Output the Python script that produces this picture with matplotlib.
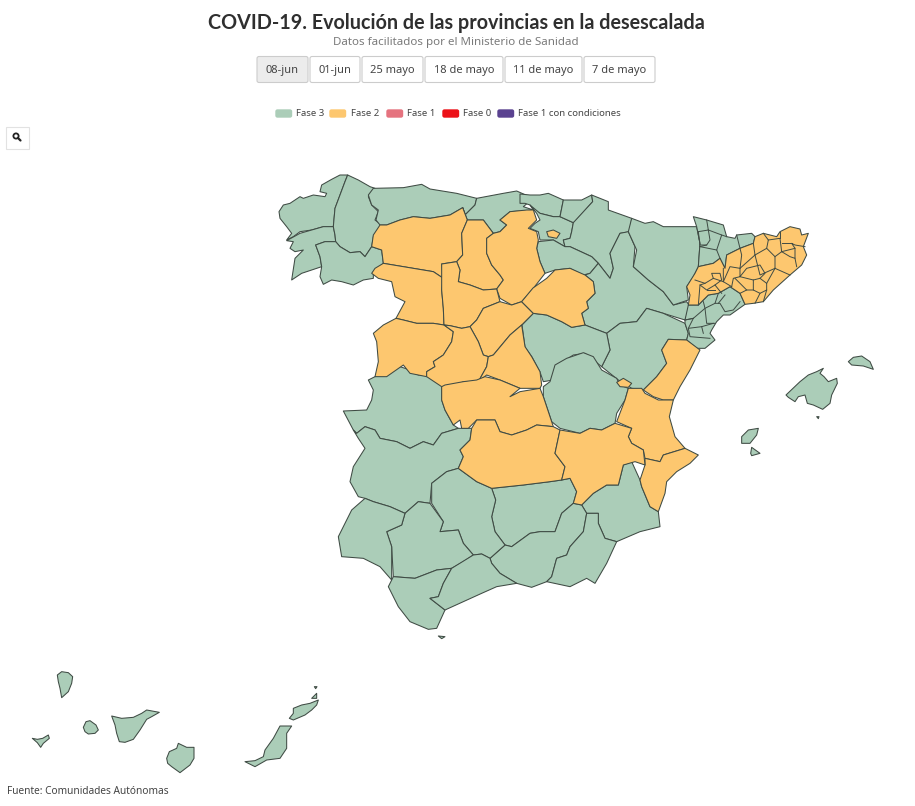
import matplotlib
matplotlib.use("Agg")
import matplotlib.pyplot as plt
from matplotlib.patches import Polygon, FancyBboxPatch, Rectangle, Circle

TITLE = "COVID-19. Evolución de las provincias en la desescalada"
SUBTITLE = "Datos facilitados por el Ministerio de Sanidad"
SOURCE = "Fuente: Comunidades Autónomas"
DATES = ["08-jun", "01-jun", "25 mayo", "18 de mayo", "11 de mayo", "7 de mayo"]
PHASES = ["Fase 3", "Fase 2", "Fase 1", "Fase 0", "Fase 1 con condiciones"]
PHASE_COLORS = ["#abcdb8", "#fdc76f", "#e5737f", "#ec1118", "#5a4290"]

# Region outlines. Each group is on a 3x grid with its own origin.
NW = (270, 165)
GAL = (275, 170)
BSQ = (520, 190)
NE = (530, 190)
CAT = (680, 215)
S = (330, 350)
BAL = (720, 340)
CAN = (0, 650)

F3 = []  # (grid, outline) of regions in Fase 3
F2 = []  # regions in Fase 2

F3 += [(GAL, o) for o in [
 [(218,15),(195,15),(170,28),(140,45),(135,65),(155,70),(150,80),(115,75),(85,85),(75,80),(45,100),(25,105),(12,125),(15,145),(35,170),(50,190),(35,210),(55,200),(75,185),(110,180),(145,170),(175,170),(180,115),(195,75),(210,35)],
 [(175,170),(145,170),(110,180),(75,190),(35,212),(55,215),(45,235),(60,245),(85,240),(60,265),(50,330),(80,310),(140,290),(135,260),(122,225),(150,215),(182,215),(180,195)],
 [(218,15),(250,30),(285,50),(300,55),(280,80),(290,105),(310,125),(300,150),(320,165),(295,200),(290,230),(270,260),(255,245),(225,248),(195,230),(182,215),(180,195),(175,170),(180,115),(195,75),(210,35)],
 [(122,225),(150,215),(182,215),(195,230),(225,248),(255,245),(270,260),(290,230),(320,240),(325,280),(295,305),(295,325),(265,330),(235,345),(200,335),(170,330),(145,343),(135,320),(140,290),(135,260)],
]]
F3 += [(NW, o) for o in [
 [(310,70),(400,68),(455,58),(480,72),(560,85),(620,100),(615,120),(585,150),(578,128),(540,150),(480,160),(430,155),(390,165),(350,180),(330,180),(318,165),(325,135),(305,120),(295,90)],
 [(620,100),(700,85),(740,78),(790,100),(760,125),(790,135),(720,140),(690,165),(710,180),(690,200),(670,205),(640,165),(592,165),(578,128),(585,150),(615,120)],
]]
F2 += [(NW, o) for o in [
 [(330,180),(350,180),(390,165),(430,155),(480,160),(540,150),(578,128),(592,165),(575,205),(578,270),(560,290),(515,297),(520,340),(490,320),(430,310),(340,295),(335,255),(305,245),(310,210)],
 [(592,165),(640,165),(670,205),(650,220),(650,265),(665,300),(690,330),(700,345),(680,372),(640,375),(600,360),(565,350),(570,315),(560,290),(578,270),(575,205)],
 [(670,205),(690,200),(710,180),(690,165),(720,140),(770,135),(790,135),(800,165),(775,190),(800,200),(805,225),(800,250),(810,290),(825,325),(790,370),(755,410),(725,420),(690,400),(680,372),(700,345),(690,330),(665,300),(650,265),(650,220)],
 [(340,295),(430,310),(490,320),(520,340),(515,375),(520,430),(522,480),(490,475),(440,475),(400,465),(378,460),(405,410),(375,395),(365,350),(325,340),(305,325),(315,310)],
 [(515,297),(560,290),(570,315),(565,350),(600,360),(640,375),(680,372),(690,410),(640,430),(620,465),(600,485),(575,490),(540,482),(522,480),(520,430),(515,375)],
 [(600,485),(620,465),(640,430),(690,410),(725,420),(755,410),(790,445),(755,480),(720,510),(670,570),(655,575),(640,570),(625,530)],
 [(378,460),(400,465),(440,475),(490,475),(522,480),(550,500),(545,530),(520,570),(490,590),(495,605),(470,620),(470,635),(420,625),(400,600),(350,635),(315,635),(325,590),(320,530),(310,505),(340,480)],
 [(522,480),(540,482),(575,490),(600,485),(625,530),(640,570),(655,575),(650,605),(625,650),(580,650),(545,668),(515,665),(470,635),(470,620),(495,605),(490,590),(520,570),(545,530),(550,500)],
 [(670,570),(720,510),(755,480),(765,545),(785,575),(810,620),(815,660),(810,670),(750,670),(690,645),(650,630),(625,650),(650,605),(655,575)],
]]
F3 += [(BSQ, o) for o in [
 [(0,12),(30,15),(60,15),(85,10),(130,30),(120,80),(100,80),(60,70),(40,60),(30,45),(15,40),(0,40)],
 [(30,45),(60,70),(100,80),(120,80),(160,98),(155,125),(150,145),(130,150),(135,170),(100,150),(60,150),(55,125),(30,115),(45,100),(60,90),(50,70)],
 [(130,30),(185,30),(215,15),(218,35),(165,95),(160,98),(120,80)],
 [(215,15),(265,35),(265,60),(335,85),(330,125),(300,130),(270,190),(280,235),(270,265),(235,220),(215,200),(150,170),(135,170),(130,150),(150,145),(155,125),(160,98),(218,35)],
 [(55,155),(100,150),(135,170),(150,170),(215,200),(235,220),(210,250),(190,255),(150,235),(105,240),(75,250),(60,215),(50,175)],
]]
F2 += [(BSQ, o) for o in [
 [(80,125),(100,120),(120,130),(110,145),(85,140)],
]]
F3 += [(NE, o) for o in [
 [(205,220),(240,265),(250,235),(240,190),(270,130),(295,125),(315,170),(310,230),(355,270),(400,305),(430,345),(470,335),(480,350),(465,390),(400,370),(350,355),(320,395),(270,400),(230,430),(165,405),(155,370),(175,355),(170,335),(195,310),(190,275),(165,255),(180,250)],
 [(305,85),(345,100),(370,95),(400,110),(450,110),(500,110),(510,160),(505,230),(490,260),(470,290),(475,330),(430,345),(400,305),(355,270),(310,230),(320,180),(295,125)],
 [(230,430),(270,400),(320,395),(350,355),(400,370),(465,400),(475,430),(470,450),(415,448),(395,480),(410,520),(380,560),(340,600),(305,595),(265,570),(215,530),(240,480)],
 [(10,370),(50,375),(95,395),(125,412),(165,405),(230,430),(240,480),(215,530),(165,490),(130,495),(75,530),(70,570),(40,575),(30,546),(6,501),(-15,471),(-24,405)],
]]
F2 += [(NE, o) for o in [
 [(-25,335),(9,294),(50,265),(75,240),(120,235),(165,255),(190,275),(195,310),(170,335),(175,355),(155,370),(165,405),(125,412),(95,395),(50,375),(10,370)],
 [(415,448),(470,450),(510,480),(480,540),(450,590),(430,630),(400,630),(370,620),(340,600),(380,560),(410,520),(395,480)],
 [(260,577),(280,565),(305,580),(295,592),(270,590)],
]]
# Catalonia: three filled blocks, with the comarca borders drawn inside them
F3 += [(CAT, o) for o in [
 [(40,5),(80,15),(130,30),(140,65),(165,70),(170,60),(215,55),(225,65),(220,85),(180,100),(140,120),(135,160),(120,130),(100,145),(55,155),(60,85),(50,35)],
 [(25,270),(55,270),(85,240),(115,235),(150,215),(180,235),(195,268),(150,300),(130,300),(110,320),(95,345),(90,355),(105,375),(75,400),(50,400),(20,375),(25,355),(15,325),(15,315)],
]]
F2 += [(CAT, o) for o in [
 [(20,215),(45,175),(55,155),(100,145),(120,130),(135,160),(140,120),(180,100),(220,85),(225,65),(250,55),(290,65),(300,50),(330,35),(360,42),(365,60),(385,55),(370,95),(380,120),(365,150),(330,180),(280,225),(250,260),(220,265),(195,268),(180,235),(150,215),(115,235),(85,240),(55,270),(25,270),(30,240)],
]]
CAT_BORDERS = [
 [(45,195),(75,205),(100,190),(130,200),(130,160)],
 [(100,190),(95,175),(120,175),(125,195),(105,210),(80,225),(60,210),(75,205)],
 [(60,210),(55,270)], [(105,210),(125,235)], [(80,225),(105,225)], [(130,200),(155,215)],
 [(130,200),(150,155),(180,160),(185,120),(180,100)],
 [(220,85),(225,120),(180,160)],
 [(225,120),(260,100),(265,75),(250,55)],
 [(265,75),(300,70),(305,110),(345,100),(335,85),(345,90),(375,95)],
 [(300,50),(300,70)], [(305,85),(335,85)],
 [(305,110),(330,125),(345,130),(345,100)], [(345,130),(350,155)],
 [(260,100),(285,125),(285,160),(330,180)], [(285,125),(305,110)],
 [(285,160),(240,180),(225,120)],
 [(180,160),(180,185),(200,160),(240,150),(255,175),(240,190),(220,195),(180,185)],
 [(180,185),(160,190),(155,215)],
 [(240,190),(260,205),(260,225),(250,260)], [(260,205),(285,160)],
 [(220,195),(220,225),(240,235),(260,225)], [(220,225),(200,225),(180,235)],
 [(200,225),(165,190)], [(240,235),(225,265)],
 [(55,50),(85,45),(80,15)], [(55,50),(60,90),(80,90)], [(85,45),(90,75),(80,90),(60,95)],
 [(85,45),(125,60),(110,105),(120,130)], [(125,60),(140,65)], [(170,60),(180,100)],
 [(60,95),(110,105)],
 [(15,315),(40,310),(75,280),(70,260)],
 [(115,235),(105,265),(120,265),(135,290),(160,285),(180,260)],
 [(105,265),(75,280),(80,325),(105,325)], [(135,240),(115,265)],
 [(40,310),(15,315)], [(40,310),(25,340),(65,335),(100,325)],
 [(25,340),(30,365),(90,370)], [(65,335),(70,355)],
]
F3 += [(S, o) for o in [
 [(135,80),(210,50),(240,60),(265,75),(290,75),(335,95),(335,150),(345,180),(370,225),(385,235),(335,250),(310,285),(280,275),(240,295),(200,275),(150,265),(135,240),(105,230),(80,250),(70,240),(40,183),(110,180),(125,150),(130,120),(115,90)],
 [(70,240),(80,250),(105,230),(135,240),(150,265),(200,275),(240,295),(280,275),(310,285),(335,250),(385,235),(425,235),(420,270),(390,300),(400,320),(385,355),(350,365),(305,400),(300,460),(265,455),(225,490),(180,470),(130,455),(105,445),(85,440),(60,395),(70,350),(105,295),(85,265)],
 [(640,110),(660,95),(675,45),(710,25),(760,8),(790,20),(815,60),(860,85),(870,105),(895,115),(885,150),(860,190),(855,220),(815,240),(780,235),(750,250),(690,235),(665,215),(640,140)],
 [(755,465),(790,430),(830,405),(865,405),(880,345),(905,335),(930,390),(935,410),(960,470),(985,485),(990,530),(930,545),(860,575),(825,565),(805,520),(805,490),(770,490)],
 [(485,415),(580,405),(660,395),(695,390),(720,385),(740,425),(730,460),(695,490),(675,545),(630,545),(600,550),(545,590),(525,585),(495,545),(485,500),(497,450)],
 [(730,460),(755,465),(770,490),(760,545),(720,590),(710,615),(680,625),(665,680),(650,695),(605,712),(560,700),(510,670),(485,640),(480,625),(525,585),(545,590),(600,550),(630,545),(675,545),(695,490)],
 [(770,490),(805,490),(805,520),(825,565),(860,575),(830,640),(795,700),(770,685),(720,710),(650,695),(665,680),(680,625),(710,615),(720,590),(760,545)],
 [(385,355),(440,395),(485,415),(497,450),(485,500),(495,545),(525,585),(480,625),(455,612),(430,615),(400,580),(385,540),(330,545),(340,515),(305,460),(305,400),(350,365)],
 [(225,490),(265,455),(300,460),(340,515),(330,545),(385,540),(400,580),(430,615),(400,635),(365,655),(320,660),(255,685),(190,680),(185,590),(170,545),(215,525)],
 [(105,445),(130,455),(180,470),(225,490),(215,525),(170,545),(185,590),(185,690),(150,650),(100,625),(35,620),(25,560),(65,480)],
 [(190,680),(255,685),(320,660),(365,655),(340,700),(325,740),(300,745),(345,780),(320,835),(295,838),(240,815),(205,770),(175,710)],
 [(365,655),(430,615),(455,612),(480,625),(485,640),(510,670),(560,700),(500,710),(455,730),(400,755),(345,780),(300,745),(325,740),(340,700)],
 [(325,858),(345,860),(335,866)],
]]
F2 += [(S, o) for o in [
 [(335,110),(345,105),(400,95),(440,90),(465,80),(510,90),(570,115),(540,140),(570,125),(630,115),(640,140),(665,215),(670,230),(620,225),(590,240),(545,255),(510,245),(495,210),(440,210),(415,235),(395,235),(390,210),(370,225),(345,180),(335,150)],
 [(385,355),(400,320),(390,300),(420,270),(425,235),(440,210),(495,210),(510,245),(545,255),(590,240),(620,225),(670,230),(690,240),(675,310),(705,350),(695,390),(660,395),(580,405),(485,415),(440,395)],
 [(895,115),(935,115),(945,130),(985,150),(1030,150),(1018,200),(1035,260),(1065,295),(1000,315),(990,335),(945,325),(940,300),(905,280),(895,260),(905,235),(860,215),(885,150)],
 [(945,325),(990,335),(1000,315),(1065,295),(1105,315),(1080,340),(1040,365),(1010,395),(1005,430),(985,485),(960,470),(935,410),(930,390),(945,345)],
 [(690,240),(750,250),(780,235),(815,240),(855,220),(905,235),(895,260),(905,280),(940,300),(945,345),(915,335),(880,345),(865,405),(830,405),(790,430),(755,465),(730,460),(740,425),(720,385),(695,390),(705,350),(675,310)],
]]
F3 += [(BAL, o) for o in [
 [(198,165),(240,125),(265,105),(290,95),(310,85),(300,100),(312,110),(325,125),(350,115),(352,130),(335,165),(330,190),(308,208),(280,195),(262,190),(255,165),(235,170),(225,185),(205,172)],
 [(385,65),(400,52),(425,48),(450,65),(460,88),(430,78),(395,75)],
 [(65,290),(85,270),(115,265),(110,285),(90,310),(65,310)],
 [(92,340),(95,322),(120,340),(95,347)],
 [(290,230),(297,230),(295,236)],
]]
F3 += [(CAN, o) for o in [
 [(172,75),(185,65),(205,68),(218,80),(215,100),(205,125),(185,143),(180,115),(175,95)],
 [(250,232),(258,215),(270,212),(288,225),(295,240),(285,250),(265,252),(255,245)],
 [(97,265),(112,268),(128,265),(145,255),(148,265),(130,280),(122,292),(112,278)],
 [(335,198),(365,205),(400,202),(425,190),(440,180),(478,187),(455,200),(440,208),(420,240),(400,268),(375,277),(358,275),(350,250),(345,225)],
 [(500,325),(508,305),(530,295),(535,280),(560,292),(582,292),(582,325),(570,345),(540,368),(515,350),(503,340)],
 [(735,335),(765,332),(790,320),(795,300),(820,265),(840,228),(875,228),(860,250),(860,295),(840,325),(800,330),(765,350)],
 [(868,205),(880,190),(880,175),(905,165),(930,160),(955,150),(950,165),(935,180),(915,195),(880,210)],
 [(935,145),(950,130),(950,145)],
 [(943,110),(951,110),(947,116)],
]]

plt.rcParams['font.family'] = ['Noto Sans', 'DejaVu Sans']
fig = plt.figure(figsize=(9.15, 8.06), dpi=100)
ax = fig.add_axes([0, 0, 1, 1])
ax.set_xlim(0, 915)
ax.set_ylim(806, 0)
ax.axis('off')


def to_canvas(grid, outline):
    return [(grid[0] + x / 3, grid[1] + y / 3) for x, y in outline]


EDGE = '#3f4b44'
for color, group in ((PHASE_COLORS[0], F3), (PHASE_COLORS[1], F2)):
    for grid, outline in group:
        ax.add_patch(Polygon(to_canvas(grid, outline), closed=True, facecolor=color,
                             edgecolor=EDGE, linewidth=0.75, joinstyle='round'))
for line in CAT_BORDERS:
    pts = to_canvas(CAT, line)
    ax.plot([p[0] for p in pts], [p[1] for p in pts], color=EDGE, linewidth=0.7)

ax.text(456, 23, TITLE, ha='center', va='center', fontsize=14.2, fontweight='bold',
        family=['Lato', 'DejaVu Sans'], color='#2f2f2f')
ax.text(456, 42, SUBTITLE, ha='center', va='center', fontsize=8.3, color='#7a7a7a')

button_x = [(257, 308), (310, 360), (362, 423), (425, 503), (505, 582), (584, 655)]
for i, (label, (x0, x1)) in enumerate(zip(DATES, button_x)):
    ax.add_patch(FancyBboxPatch((x0, 56.5), x1 - x0, 26, boxstyle='round,pad=0,rounding_size=2',
                                facecolor='#ececec' if i == 0 else 'white',
                                edgecolor='#cccccc', linewidth=0.8))
    ax.text((x0 + x1) / 2, 70, label, ha='center', va='center', fontsize=8, color='#444444')

legend_pos = [(275, 296), (329, 351), (386, 407), (442, 463), (497, 518)]
for label, color, (sx, tx) in zip(PHASES, PHASE_COLORS, legend_pos):
    ax.add_patch(FancyBboxPatch((sx + 1, 110), 15.5, 7, boxstyle='round,pad=0,rounding_size=1.5',
                                facecolor=color, edgecolor=color, linewidth=1))
    ax.text(tx, 113.5, label, ha='left', va='center', fontsize=6.9, color='#444444')

ax.add_patch(Rectangle((5.5, 126.5), 23, 22, facecolor='white', edgecolor='#e2e2e2', linewidth=0.8))
ax.add_patch(Circle((16, 136), 2.6, facecolor='none', edgecolor='#222222', linewidth=1.3))
ax.plot([18, 20.5], [138, 140.5], color='#222222', linewidth=1.6, solid_capstyle='round')

ax.text(7, 791, SOURCE, ha='left', va='center', fontsize=7.3, color='#444444')

fig.savefig('out.png', dpi=100)
